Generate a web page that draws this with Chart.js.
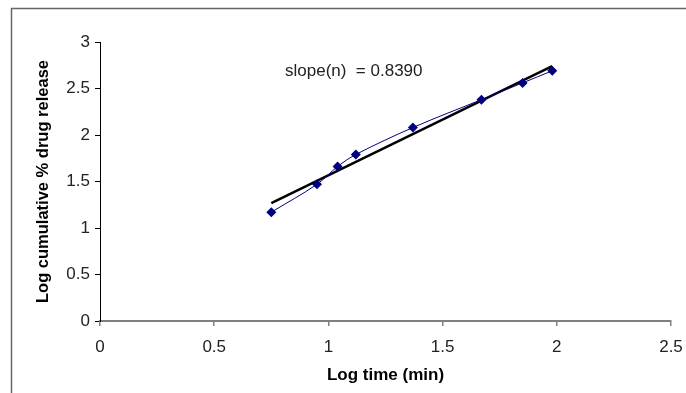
<!DOCTYPE html>
<html>
<head>
<meta charset="utf-8">
<script src="https://cdn.jsdelivr.net/npm/chart.js@4/dist/chart.umd.min.js"></script>
<style>
  html, body { margin: 0; padding: 0; background: #fff; overflow: hidden; }
  canvas { display: block; }
</style>
</head>
<body>
<canvas id="releaseChart" width="686" height="393"></canvas>
<script>
// =====================
// Data: log time vs log cumulative % drug release
// =====================
const logTime = [0.75, 0.95, 1.04, 1.12, 1.37, 1.67, 1.85, 1.98];
const logRelease = [1.17, 1.47, 1.66, 1.79, 2.08, 2.38, 2.56, 2.69];
const xTicks = [0, 0.5, 1, 1.5, 2, 2.5];
const yTicks = [0, 0.5, 1, 1.5, 2, 2.5, 3];
const slopeLabel = 'slope(n)  = 0.8390';

// =====================
// Least squares trend line through the measured points
// =====================
const fitLine = (xs, ys) => {
  const n = xs.length;
  const mx = xs.reduce((a, b) => a + b, 0) / n;
  const my = ys.reduce((a, b) => a + b, 0) / n;
  let sxy = 0, sxx = 0;
  xs.forEach((x, i) => { sxy += (x - mx) * (ys[i] - my); sxx += (x - mx) * (x - mx); });
  const m = sxy / sxx;
  const b = my - m * mx;
  const x0 = Math.min(...xs), x1 = Math.max(...xs);
  return [{ x: x0, y: m * x0 + b }, { x: x1, y: m * x1 + b }];
};

const points = logTime.map((x, i) => ({ x, y: logRelease[i] }));
const trend = fitLine(logTime, logRelease);

// =====================
// Outer frame + slope annotation
// =====================
const frame = {
  id: 'frame',
  beforeDraw(chart) {
    const { ctx } = chart;
    ctx.save();
    ctx.strokeStyle = '#666';
    ctx.lineWidth = 1.5;
    ctx.beginPath();
    ctx.moveTo(11.5, chart.height + 2);
    ctx.lineTo(11.5, 8.5);
    ctx.lineTo(chart.width + 2, 8.5);
    ctx.stroke();
    ctx.restore();
  }
};

const slopeText = {
  id: 'slopeText',
  afterDatasetsDraw(chart) {
    const { ctx, scales } = chart;
    ctx.save();
    ctx.font = '17px "Liberation Sans", Arial, sans-serif';
    ctx.fillStyle = '#222';
    ctx.textBaseline = 'middle';
    ctx.textAlign = 'left';
    ctx.fillText(slopeLabel, scales.x.getPixelForValue(0.81), scales.y.getPixelForValue(2.68));
    ctx.restore();
  }
};

const tickFont = { family: '"Liberation Sans", Arial, sans-serif', size: 17 };
const plainLabel = (v) => String(v);

new Chart(document.getElementById('releaseChart').getContext('2d'), {
  type: 'line',
  data: {
    datasets: [
      {
        data: points,
        borderColor: '#000080',
        borderWidth: 1,
        tension: 0.35,
        pointStyle: 'rectRot',
        pointRadius: 5,
        pointBackgroundColor: '#000080',
        pointBorderColor: '#000080',
        pointBorderWidth: 0,
        order: 1
      },
      {
        data: trend,
        borderColor: '#000',
        borderWidth: 2.5,
        pointRadius: 0,
        tension: 0,
        order: 2
      }
    ]
  },
  options: {
    responsive: false,
    animation: false,
    layout: { padding: { top: 42, right: 15, left: 0, bottom: 0 } },
    plugins: { legend: { display: false }, tooltip: { enabled: false } },
    scales: {
      x: {
        type: 'linear',
        min: 0,
        max: 2.5,
        afterBuildTicks: (scale) => { scale.ticks = xTicks.map(v => ({ value: v })); },
        afterFit: (scale) => { scale.height = 72; scale.paddingLeft = 0; scale.paddingRight = 0; },
        border: { color: '#808080', width: 2 },
        grid: { drawOnChartArea: false, tickLength: 5, color: '#808080', lineWidth: 1.5 },
        ticks: { color: '#222', font: tickFont, padding: 11, maxRotation: 0, callback: plainLabel },
        title: {
          display: true,
          text: 'Log time (min)',
          color: '#000',
          font: { family: '"Liberation Sans", Arial, sans-serif', size: 17, weight: 'bold' },
          padding: { top: 0, bottom: 7 }
        }
      },
      y: {
        type: 'linear',
        min: 0,
        max: 3,
        afterBuildTicks: (scale) => { scale.ticks = yTicks.map(v => ({ value: v })); },
        afterFit: (scale) => { scale.width = 100; scale.paddingTop = 0; scale.paddingBottom = 0; },
        border: { color: '#000', width: 1 },
        grid: { drawOnChartArea: false, tickLength: 5, color: '#000' },
        ticks: { color: '#222', font: tickFont, padding: 5, callback: plainLabel },
        title: {
          display: true,
          text: 'Log cumulative % drug release',
          color: '#000',
          font: { family: '"Liberation Sans", Arial, sans-serif', size: 16.5, weight: 'bold' },
          padding: { top: 34, bottom: 0 }
        }
      }
    }
  },
  plugins: [frame, slopeText]
});
</script>
</body>
</html>
